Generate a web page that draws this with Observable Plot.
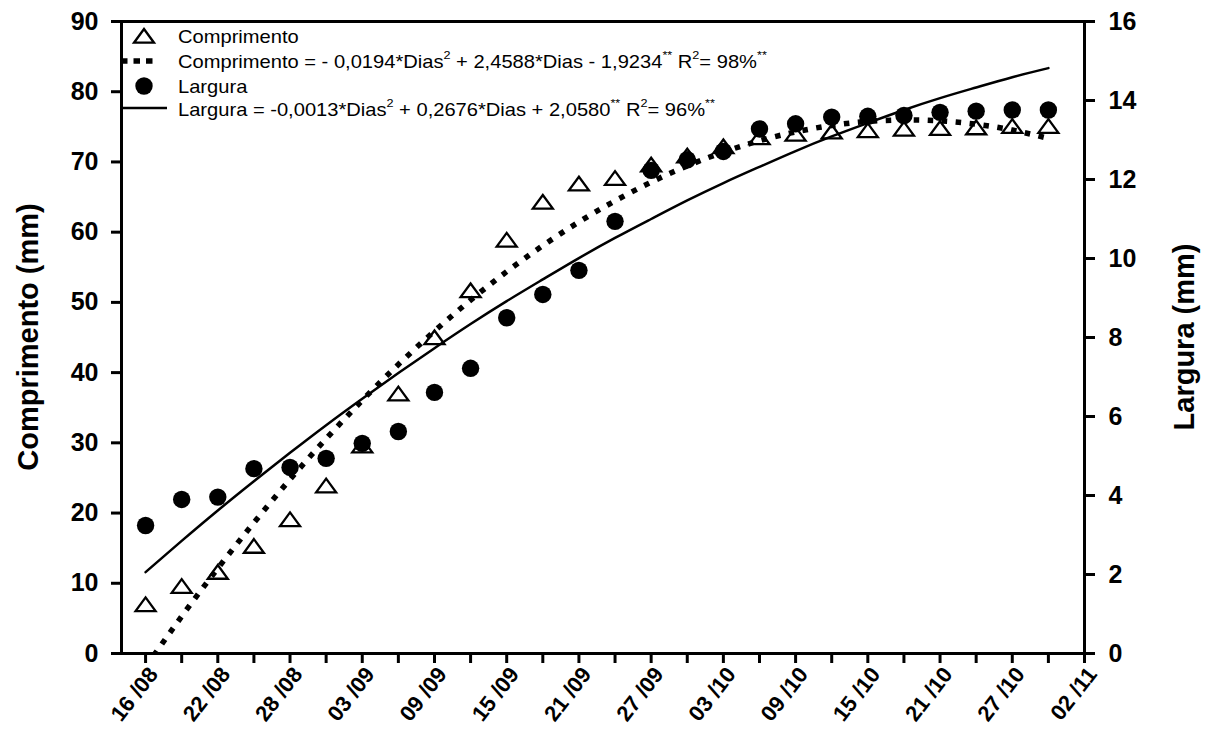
<!DOCTYPE html>
<html>
<head>
<meta charset="utf-8">
<script src="https://cdn.jsdelivr.net/npm/d3@7"></script>
<script src="https://cdn.jsdelivr.net/npm/@observablehq/plot@0.6"></script>
<style>
  body { margin: 0; background: #fff; font-family: "Liberation Sans", Arial, sans-serif; }
  #wrap { position: relative; width: 1206px; height: 730px; }
  #overlay { position: absolute; left: 0; top: 0; pointer-events: none; }
</style>
</head>
<body>
<div id="wrap"></div>
<script>
// ---------- data ----------
const ANO = 2012;
const datas = ["16/08","19/08","22/08","25/08","28/08","31/08","03/09","06/09","09/09","12/09","15/09","18/09","21/09",
               "24/09","27/09","30/09","03/10","06/10","09/10","12/10","15/10","18/10","21/10","24/10","27/10","30/10"];
// Comprimento (mm), left axis
const comprimento = [7.0, 9.6, 11.6, 15.3, 19.1, 23.9, 29.6, 37.0, 45.0, 51.7, 58.9, 64.3, 66.9,
                     67.7, 69.6, 70.9, 72.2, 73.5, 74.0, 74.3, 74.5, 74.7, 74.8, 74.9, 75.1, 75.1];
// Largura (mm), right axis
const largura = [3.24, 3.90, 3.96, 4.68, 4.71, 4.94, 5.32, 5.62, 6.61, 7.22, 8.50, 9.09, 9.70,
                 10.94, 12.23, 12.50, 12.71, 13.28, 13.41, 13.58, 13.60, 13.62, 13.70, 13.73, 13.76, 13.76];
// fitted (regression) values at each date
const ajusteComprimento = [-1.92, 5.28, 12.13, 18.63, 24.79, 30.59, 36.05, 41.16, 45.91, 50.32, 54.38, 58.09, 61.45,
                           64.46, 67.12, 69.44, 71.40, 73.02, 74.28, 75.20, 75.76, 75.98, 75.85, 75.37, 74.54, 73.36];
const ajusteLargura = [2.06, 2.85, 3.62, 4.36, 5.08, 5.78, 6.45, 7.10, 7.73, 8.34, 8.92, 9.47, 10.01,
                       10.52, 11.00, 11.47, 11.91, 12.32, 12.72, 13.09, 13.43, 13.76, 14.06, 14.33, 14.59, 14.82];
const xTicks = ["16/08","22/08","28/08","03/09","09/09","15/09","21/09","27/09","03/10","09/10","15/10","21/10","27/10","02/11"];
const xDominio = ["14/08","02/11"];
const yTicksEsq = [0,10,20,30,40,50,60,70,80,90];
const yTicksDir = [0,2,4,6,8,10,12,14,16];
const legenda = {
  comp: "Comprimento",
  compEq: [["Comprimento = - 0,0194*Dias",0],["2",1],[" + 2,4588*Dias - 1,9234",0],["**",1],[" R",0],["2",1],["= 98%",0],["**",1]],
  larg: "Largura",
  largEq: [["Largura = -0,0013*Dias",0],["2",1],[" + 0,2676*Dias + 2,0580",0],["**",1],[" R",0],["2",1],["= 96%",0],["**",1]]
};
const tituloEsq = "Comprimento (mm)";
const tituloDir = "Largura (mm)";

// ---------- build ----------
const parse = s => { const [d, m] = s.split("/").map(Number); return new Date(Date.UTC(ANO, m - 1, d)); };
const fator = 90 / 16; // right axis (0-16) onto left axis (0-90)
const pontos = datas.map((d, i) => ({
  data: parse(d), comp: comprimento[i], larg: largura[i] * fator,
  fitC: ajusteComprimento[i], fitL: ajusteLargura[i] * fator
}));
const majors = xTicks.map(parse);
const minors = Array.from(new Set([...datas, ...xTicks])).map(parse);

const triangulo = {
  draw(ctx) {
    ctx.moveTo(0, -7);
    ctx.lineTo(10, 6.7);
    ctx.lineTo(-10, 6.7);
    ctx.closePath();
  }
};

const FONT = "'Liberation Sans', Arial, sans-serif";
const chart = Plot.plot({
  width: 1206, height: 730,
  marginLeft: 121, marginRight: 122, marginTop: 21, marginBottom: 77,
  style: { fontFamily: FONT, background: "white", color: "black", overflow: "visible" },
  x: { type: "utc", domain: xDominio.map(parse) },
  y: { domain: [0, 90] },
  marks: [
    Plot.axisY({ anchor: "left", ticks: yTicksEsq, tickSize: 10, tickPadding: 13, fontSize: 25, fontWeight: "bold",
                 strokeWidth: 3, label: null }),
    Plot.axisY({ anchor: "right", ticks: yTicksDir.map(v => v * fator), tickFormat: d => String(Math.round(d / fator)),
                 tickSize: 10, tickPadding: 14, fontSize: 25, fontWeight: "bold", strokeWidth: 3, label: null }),
    Plot.axisX({ ticks: minors, tickFormat: () => "", tickSize: 10, strokeWidth: 3, label: null }),
    Plot.line(pontos, { x: "data", y: "fitC", curve: "natural", stroke: "black", strokeWidth: 5.5,
                        strokeDasharray: "5.5,8.5", strokeLinecap: "butt", clip: true }),
    Plot.line(pontos, { x: "data", y: "fitL", curve: "natural", stroke: "black", strokeWidth: 2.5 }),
    Plot.dot(pontos, { x: "data", y: "comp", symbol: triangulo, r: 8, stroke: "black", strokeWidth: 2.3, fill: "none" }),
    Plot.dot(pontos, { x: "data", y: "larg", r: 8.7, fill: "black", stroke: "none" }),
    Plot.frame({ stroke: "black", strokeWidth: 3 })
  ]
});

const wrap = document.getElementById("wrap");
wrap.appendChild(chart);

// ---------- overlay: rotated x tick labels, legend and axis titles ----------
const ov = d3.select(wrap).append("svg").attr("id", "overlay")
  .attr("width", 1206).attr("height", 730)
  .style("font-family", FONT);

const xs = chart.scale("x"), ys = chart.scale("y");
const yBase = ys.apply(0);
const fmt = d3.utcFormat("%d /%m");
for (const d of majors) {
  const px = xs.apply(d);
  ov.append("text")
    .attr("transform", `translate(${px + 8},${yBase + 17}) rotate(-52)`)
    .attr("text-anchor", "end").attr("dominant-baseline", "central")
    .attr("font-size", 22).attr("font-weight", "bold").text(fmt(d));
}

// legend symbols
ov.append("path").attr("transform", "translate(144,36)")
  .attr("d", "M0,-7L10,6.7L-10,6.7Z").attr("fill", "none").attr("stroke", "black").attr("stroke-width", 2.3);
ov.append("line").attr("x1", 121).attr("x2", 153).attr("y1", 61).attr("y2", 61)
  .attr("stroke", "black").attr("stroke-width", 5.5).attr("stroke-dasharray", "6.5,6");
ov.append("circle").attr("cx", 144).attr("cy", 86).attr("r", 8.7).attr("fill", "black");
ov.append("line").attr("x1", 121).attr("x2", 167).attr("y1", 108).attr("y2", 108)
  .attr("stroke", "black").attr("stroke-width", 2.5);

function legText(y, parts) {
  const t = ov.append("text").attr("transform", `translate(178,${y}) scale(1.15,1)`)
    .attr("font-size", 17.5).attr("dominant-baseline", "central");
  if (typeof parts === "string") { t.text(parts); return; }
  let prevSup = 0;
  for (const [s, sup] of parts) {
    const ts = t.append("tspan").text(s);
    if (sup && !prevSup) ts.attr("dy", -7).attr("font-size", 11);
    else if (sup) ts.attr("font-size", 11);
    else if (!sup && prevSup) ts.attr("dy", 7);
    prevSup = sup;
  }
}
legText(37, legenda.comp);
legText(62, legenda.compEq);
legText(87, legenda.larg);
legText(110, legenda.largEq);

// axis titles
ov.append("text").attr("transform", "translate(28,337) rotate(-90)")
  .attr("text-anchor", "middle").attr("dominant-baseline", "central")
  .attr("font-size", 29).attr("font-weight", "bold").text(tituloEsq);
ov.append("text").attr("transform", "translate(1184,337) rotate(-90)")
  .attr("text-anchor", "middle").attr("dominant-baseline", "central")
  .attr("font-size", 29).attr("font-weight", "bold").text(tituloDir);
</script>
</body>
</html>
